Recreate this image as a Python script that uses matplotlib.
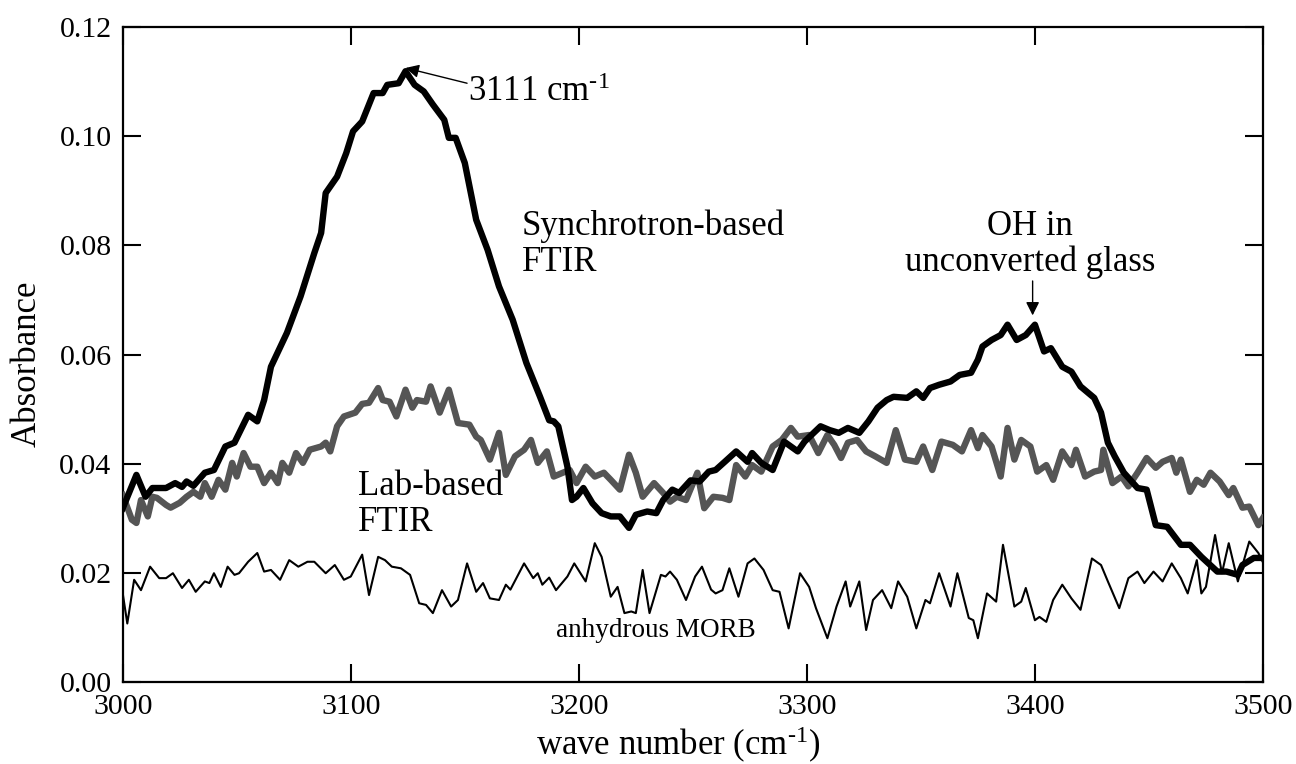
import matplotlib
matplotlib.use("Agg")
import matplotlib.pyplot as plt

# synchrotron-based FTIR (thick black)
sync_wn = [3000, 3006, 3010, 3013, 3019, 3023, 3026, 3028, 3031, 3036, 3040, 3045, 3049, 3055, 3059,
           3062, 3065, 3072, 3078, 3084, 3087, 3089, 3094, 3098, 3101, 3105, 3110, 3114, 3116, 3121,
           3124, 3128, 3132, 3136, 3141, 3143, 3146, 3150, 3155, 3160, 3165, 3171, 3177, 3183, 3187,
           3189, 3191, 3195, 3197, 3199, 3202, 3206, 3210, 3214, 3218, 3222, 3225, 3230, 3234, 3237,
           3241, 3244, 3249, 3253, 3257, 3260, 3264, 3269, 3274, 3276, 3280, 3285, 3290, 3296, 3299,
           3306, 3310, 3314, 3318, 3323, 3327, 3331, 3335, 3338, 3344, 3348, 3351, 3354, 3358, 3363,
           3367, 3372, 3375, 3377, 3381, 3385, 3388, 3392, 3396, 3400, 3404, 3407, 3412, 3416, 3420,
           3426, 3429, 3432, 3435, 3439, 3445, 3449, 3453, 3458, 3464, 3468, 3473, 3480, 3484, 3489,
           3491, 3496, 3500]
sync_abs = [0.0319, 0.0380, 0.0340, 0.0356, 0.0356, 0.0365, 0.0358, 0.0368, 0.0360, 0.0384, 0.0389,
            0.0432, 0.0439, 0.0490, 0.0478, 0.0517, 0.0578, 0.0640, 0.0707, 0.0786, 0.0823, 0.0896,
            0.0926, 0.0969, 0.1009, 0.1027, 0.1079, 0.1079, 0.1094, 0.1097, 0.1119, 0.1094, 0.1082,
            0.1058, 0.1030, 0.0997, 0.0997, 0.0951, 0.0847, 0.0792, 0.0725, 0.0664, 0.0585, 0.0523,
            0.0480, 0.0478, 0.0469, 0.0395, 0.0334, 0.0340, 0.0356, 0.0328, 0.0310, 0.0304, 0.0304,
            0.0283, 0.0307, 0.0313, 0.0310, 0.0334, 0.0353, 0.0347, 0.0370, 0.0368, 0.0386, 0.0389,
            0.0404, 0.0423, 0.0404, 0.0420, 0.0402, 0.0389, 0.0441, 0.0423, 0.0441, 0.0469, 0.0462,
            0.0457, 0.0466, 0.0457, 0.0478, 0.0503, 0.0517, 0.0523, 0.0521, 0.0533, 0.0521, 0.0539,
            0.0545, 0.0551, 0.0563, 0.0567, 0.0591, 0.0615, 0.0627, 0.0636, 0.0655, 0.0627, 0.0636,
            0.0655, 0.0606, 0.0612, 0.0578, 0.0569, 0.0542, 0.0521, 0.0494, 0.0439, 0.0414, 0.0384,
            0.0356, 0.0353, 0.0288, 0.0285, 0.0252, 0.0252, 0.0230, 0.0203, 0.0203, 0.0197, 0.0215,
            0.0228, 0.0228]

# lab-based FTIR (thick grey)
lab_wn = [3000, 3004, 3006, 3008, 3011, 3013, 3015, 3019, 3021, 3025, 3028, 3031, 3034, 3036, 3039,
          3042, 3045, 3048, 3050, 3053, 3056, 3059, 3062, 3065, 3068, 3070, 3073, 3076, 3079, 3082,
          3087, 3089, 3091, 3094, 3097, 3102, 3105, 3108, 3112, 3114, 3117, 3120, 3124, 3127, 3129,
          3133, 3135, 3139, 3143, 3147, 3152, 3155, 3157, 3161, 3165, 3168, 3172, 3176, 3179, 3182,
          3186, 3189, 3193, 3196, 3199, 3203, 3207, 3211, 3214, 3218, 3222, 3225, 3228, 3233, 3237,
          3240, 3243, 3247, 3252, 3255, 3259, 3263, 3266, 3269, 3273, 3276, 3280, 3285, 3289, 3293,
          3296, 3301, 3305, 3309, 3312, 3315, 3318, 3322, 3326, 3330, 3335, 3339, 3343, 3348, 3351,
          3355, 3359, 3364, 3368, 3372, 3375, 3377, 3381, 3385, 3388, 3391, 3394, 3398, 3401, 3405,
          3408, 3412, 3416, 3418, 3422, 3426, 3429, 3430, 3434, 3438, 3441, 3445, 3449, 3453, 3456,
          3460, 3462, 3464, 3468, 3471, 3474, 3477, 3481, 3485, 3487, 3491, 3494, 3498, 3500]
lab_abs = [0.0343, 0.0298, 0.0292, 0.0334, 0.0304, 0.0340, 0.0338, 0.0325, 0.0320, 0.0329, 0.0340,
           0.0349, 0.0340, 0.0365, 0.0340, 0.0371, 0.0353, 0.0402, 0.0377, 0.0420, 0.0395, 0.0395,
           0.0365, 0.0384, 0.0365, 0.0402, 0.0384, 0.0420, 0.0402, 0.0426, 0.0432, 0.0439, 0.0423,
           0.0469, 0.0487, 0.0494, 0.0510, 0.0512, 0.0539, 0.0517, 0.0514, 0.0487, 0.0536, 0.0503,
           0.0517, 0.0514, 0.0542, 0.0494, 0.0536, 0.0475, 0.0472, 0.0450, 0.0444, 0.0408, 0.0457,
           0.0380, 0.0414, 0.0426, 0.0444, 0.0402, 0.0423, 0.0377, 0.0384, 0.0389, 0.0365, 0.0395,
           0.0377, 0.0384, 0.0371, 0.0353, 0.0417, 0.0384, 0.0340, 0.0365, 0.0347, 0.0331, 0.0340,
           0.0334, 0.0384, 0.0319, 0.0340, 0.0338, 0.0334, 0.0398, 0.0377, 0.0398, 0.0386, 0.0432,
           0.0444, 0.0466, 0.0450, 0.0453, 0.0420, 0.0453, 0.0435, 0.0411, 0.0439, 0.0444, 0.0423,
           0.0414, 0.0402, 0.0462, 0.0408, 0.0404, 0.0432, 0.0389, 0.0441, 0.0435, 0.0423, 0.0462,
           0.0429, 0.0453, 0.0432, 0.0377, 0.0466, 0.0408, 0.0444, 0.0432, 0.0386, 0.0398, 0.0371,
           0.0423, 0.0398, 0.0426, 0.0377, 0.0386, 0.0389, 0.0426, 0.0365, 0.0377, 0.0359, 0.0384,
           0.0411, 0.0393, 0.0404, 0.0411, 0.0384, 0.0408, 0.0349, 0.0371, 0.0362, 0.0384, 0.0368,
           0.0343, 0.0356, 0.0320, 0.0322, 0.0288, 0.0301]

# anhydrous MORB (thin black)
morb_wn = [3000, 3002, 3005, 3008, 3012, 3016, 3019, 3022, 3026, 3029, 3032, 3036, 3038, 3040, 3043,
           3046, 3049, 3051, 3055, 3059, 3062, 3065, 3069, 3073, 3077, 3081, 3084, 3089, 3093, 3097,
           3100, 3105, 3108, 3112, 3115, 3118, 3122, 3126, 3130, 3133, 3136, 3140, 3144, 3147, 3151,
           3155, 3158, 3161, 3165, 3168, 3170, 3176, 3180, 3182, 3184, 3187, 3190, 3195, 3198, 3203,
           3207, 3210, 3214, 3217, 3220, 3223, 3225, 3228, 3231, 3236, 3238, 3240, 3243, 3247, 3251,
           3254, 3258, 3260, 3263, 3266, 3270, 3274, 3277, 3281, 3285, 3288, 3292, 3297, 3301, 3304,
           3309, 3313, 3317, 3319, 3323, 3326, 3329, 3333, 3337, 3340, 3344, 3348, 3352, 3354, 3358,
           3363, 3366, 3371, 3373, 3375, 3379, 3383, 3386, 3391, 3394, 3396, 3400, 3402, 3405, 3408,
           3412, 3416, 3420, 3425, 3429, 3432, 3437, 3441, 3445, 3448, 3452, 3456, 3460, 3464, 3467,
           3471, 3473, 3475, 3479, 3482, 3485, 3489, 3494, 3498, 3500]
morb_abs = [0.0163, 0.0108, 0.0188, 0.0169, 0.0212, 0.0191, 0.0191, 0.0200, 0.0173, 0.0188, 0.0166,
            0.0185, 0.0182, 0.0200, 0.0175, 0.0212, 0.0197, 0.0200, 0.0221, 0.0237, 0.0203, 0.0206,
            0.0188, 0.0224, 0.0212, 0.0221, 0.0221, 0.0200, 0.0215, 0.0188, 0.0194, 0.0234, 0.0160,
            0.0230, 0.0224, 0.0212, 0.0209, 0.0197, 0.0145, 0.0142, 0.0127, 0.0169, 0.0139, 0.0151,
            0.0218, 0.0166, 0.0182, 0.0154, 0.0151, 0.0179, 0.0170, 0.0218, 0.0191, 0.0200, 0.0179,
            0.0192, 0.0169, 0.0194, 0.0218, 0.0185, 0.0255, 0.0230, 0.0157, 0.0175, 0.0127, 0.0130,
            0.0127, 0.0206, 0.0127, 0.0197, 0.0194, 0.0203, 0.0188, 0.0151, 0.0194, 0.0212, 0.0170,
            0.0163, 0.0169, 0.0209, 0.0157, 0.0218, 0.0227, 0.0206, 0.0169, 0.0166, 0.0099, 0.0200,
            0.0175, 0.0136, 0.0081, 0.0139, 0.0185, 0.0139, 0.0185, 0.0096, 0.0151, 0.0169, 0.0136,
            0.0185, 0.0157, 0.0099, 0.0151, 0.0145, 0.0200, 0.0139, 0.0200, 0.0118, 0.0114, 0.0081,
            0.0163, 0.0148, 0.0252, 0.0139, 0.0148, 0.0173, 0.0114, 0.0120, 0.0111, 0.0151, 0.0179,
            0.0154, 0.0133, 0.0227, 0.0215, 0.0185, 0.0136, 0.0191, 0.0203, 0.0182, 0.0203, 0.0185,
            0.0218, 0.0191, 0.0163, 0.0224, 0.0163, 0.0175, 0.0270, 0.0200, 0.0255, 0.0185, 0.0258,
            0.0237, 0.0220]

x_ticks = [3000, 3100, 3200, 3300, 3400, 3500]
y_ticks = [0.00, 0.02, 0.04, 0.06, 0.08, 0.10, 0.12]

plt.rcParams["font.family"] = ["Liberation Serif", "DejaVu Serif"]
plt.rcParams["mathtext.fontset"] = "custom"
plt.rcParams["mathtext.rm"] = "Liberation Serif"
plt.rcParams["mathtext.it"] = "Liberation Serif:italic"

inv_cm = r"cm$^{\text{-1}}$"

fig = plt.figure(figsize=(12.96, 7.64), dpi=100)
ax = fig.add_axes([0.0947, 0.1067, 0.8798, 0.858])

ax.plot(morb_wn, morb_abs, color="black", lw=1.5, zorder=2)
ax.plot(lab_wn, lab_abs, color="#555555", lw=4.6, zorder=3)
ax.plot(sync_wn, sync_abs, color="black", lw=4.6, zorder=4)

ax.set_xlim(3000, 3500)
ax.set_ylim(0, 0.12)
ax.set_xticks(x_ticks)
ax.set_yticks(y_ticks)
ax.set_yticklabels(["%.2f" % v for v in y_ticks])
ax.tick_params(direction="in", top=True, right=True, length=13, width=1.5,
               labelsize=21.5, pad=8)
for sp in ax.spines.values():
    sp.set_linewidth(1.6)

ax.set_xlabel("wave number (" + inv_cm + ")", fontsize=25)
ax.set_ylabel("Absorbance", fontsize=25)
ax.xaxis.set_label_coords(0.487, -0.065)
ax.yaxis.set_label_coords(-0.069, 0.486)

# annotations
ax.annotate("", xy=(3124, 0.1125), xytext=(3151, 0.1097),
            arrowprops=dict(arrowstyle="-|>", color="black", lw=1, mutation_scale=20,
                            shrinkA=0, shrinkB=0))
ax.text(3151.5, 0.1080, "3111 " + inv_cm, fontsize=25, va="center", ha="left")
ax.text(3175, 0.0802, "Synchrotron-based\nFTIR", fontsize=25, ha="left", va="center",
        linespacing=1.12)
ax.text(3103, 0.0326, "Lab-based\nFTIR", fontsize=25, ha="left", va="center",
        linespacing=1.12)
ax.text(3398, 0.0802, "OH in\nunconverted glass", fontsize=25, ha="center", va="center",
        linespacing=1.12)
ax.annotate("", xy=(3399, 0.0672), xytext=(3399, 0.0735),
            arrowprops=dict(arrowstyle="-|>", color="black", lw=1, mutation_scale=20,
                            shrinkA=0, shrinkB=0))
ax.text(3190, 0.0096, "anhydrous MORB", fontsize=19.5, ha="left", va="center")

fig.savefig("out.png", dpi=100)
